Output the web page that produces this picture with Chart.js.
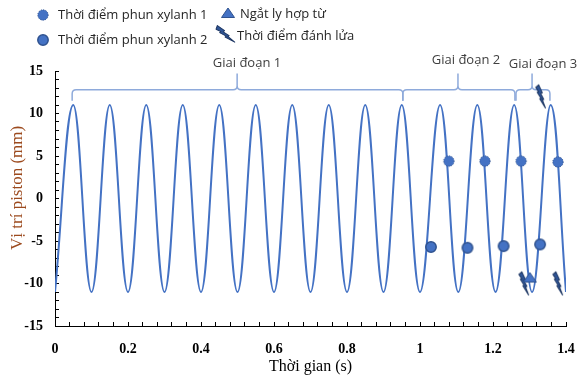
<!DOCTYPE html>
<html><head><meta charset="utf-8">
<script src="https://cdn.jsdelivr.net/npm/chart.js@4.4.1/dist/chart.umd.min.js"></script>
<style>html,body{margin:0;padding:0;background:#fff}#wrap{width:582px;height:378px;position:relative}</style>
</head><body><div id="wrap"><canvas id="c" width="582" height="378"></canvas></div>
<script>
// ---- data ----
const pistonTime = [0,0.05,0.1,0.15,0.2,0.25,0.3,0.35,0.4,0.45,0.5,0.55,0.6,0.65,0.7,0.75,0.8,0.85,0.9,0.95,1.0,1.055,1.105,1.157,1.207,1.258,1.307,1.358,1.4];
const pistonPos  = [-11,11,-11,11,-11,11,-11,11,-11,11,-11,11,-11,11,-11,11,-11,11,-11,11,-11,11,-11,11,-11,11,-11,11,-11];
const inj1Time = [1.079,1.178,1.277,1.378];
const inj1Pos  = [4.4,4.4,4.4,4.3];
const inj2Time = [1.030,1.130,1.229,1.329];
const inj2Pos  = [-5.7,-5.8,-5.6,-5.4];
const clutchTime = [1.301];
const clutchPos  = [-9.3];
const sparkTime = [1.334,1.288,1.381];
const sparkPos  = [12.0,-10.0,-10.0];
const stageLabels = ['Giai đoạn 1','Giai đoạn 2','Giai đoạn 3'];
const stageStart  = [0.047,0.953,1.263];
const stageEnd    = [0.953,1.260,1.356];
const stageMid    = [0.499,1.104,1.307];
const stageLabelX = [0.526,1.126,1.337];
const stageLabelY = [15.9,16.3,15.8];
const xTickLabels = ['0','0.2','0.4','0.6','0.8','1','1.2','1.4'];
const yTickLabels = ['-15','-10','-5','0','5','10','15'];
const seriesNames = ['Thời điểm phun xylanh 1','Thời điểm phun xylanh 2','Ngắt ly hợp từ','Thời điểm đánh lửa'];

const BLUE='#4472C4', DARK='#2F528F';
function makeDot(dotted){
  const c=document.createElement('canvas'); c.width=14; c.height=14;
  const g=c.getContext('2d');
  g.beginPath(); g.arc(7,7,5.2,0,Math.PI*2);
  g.fillStyle=BLUE; g.fill();
  g.lineWidth=dotted?1:1.5; g.strokeStyle=DARK;
  if(dotted) g.setLineDash([1.2,1.2]);
  g.stroke(); return c;
}
function makeTri(){
  const c=document.createElement('canvas'); c.width=16; c.height=14;
  const g=c.getContext('2d');
  g.beginPath(); g.moveTo(8,2); g.lineTo(14.5,11.5); g.lineTo(1.5,11.5); g.closePath();
  g.fillStyle=BLUE; g.fill(); g.lineWidth=1; g.strokeStyle=DARK; g.stroke(); return c;
}
function makeBolt(angle){
  const c=document.createElement('canvas'); c.width=30; c.height=30;
  const g=c.getContext('2d');
  g.translate(15,15); g.rotate(angle*Math.PI/180); g.translate(-11,-0.5);
  const p=[[0,-4.5],[8.5,-2.2],[7.6,-0.6],[14.5,1.0],[13.6,2.2],[22,5.2],[11.2,3.6],[12,2.4],[4.6,1.4],[5.4,0.0],[0,-0.6]];
  g.beginPath(); g.moveTo(p[0][0],p[0][1]); for(let i=1;i<p.length;i++) g.lineTo(p[i][0],p[i][1]); g.closePath();
  g.fillStyle='#2F5597'; g.fill(); g.lineWidth=1; g.strokeStyle='#1F3864'; g.lineJoin='round'; g.stroke(); return c;
}
const dot1=makeDot(true), dot2=makeDot(false), tri=makeTri(), boltChart=makeBolt(50), boltLegend=makeBolt(20);

const pts=(xs,ys)=>xs.map((x,i)=>({x:x,y:ys[i]}));
const isMajor=(v,step)=>Math.abs(v/step-Math.round(v/step))<1e-6;

const bracketPlugin={id:'brackets',beforeDatasetsDraw(chart){
  const g=chart.ctx, xs=chart.scales.x, ys=chart.scales.y;
  const yH=ys.getPixelForValue(12.8), yLow=ys.getPixelForValue(11.5), yTop=ys.getPixelForValue(14.7), r=4;
  g.save(); g.strokeStyle='#8EAADB'; g.lineWidth=1.5; g.lineJoin='round';
  for(let i=0;i<stageStart.length;i++){
    const x0=xs.getPixelForValue(stageStart[i]), x1=xs.getPixelForValue(stageEnd[i]), xc=xs.getPixelForValue(stageMid[i]);
    g.beginPath();
    g.moveTo(x0,yLow); g.lineTo(x0,yH+r); g.quadraticCurveTo(x0,yH,x0+r,yH);
    g.lineTo(xc-r,yH); g.quadraticCurveTo(xc,yH,xc,yH-r); g.lineTo(xc,yTop);
    g.moveTo(xc,yH-r); g.quadraticCurveTo(xc,yH,xc+r,yH);
    g.lineTo(x1-r,yH); g.quadraticCurveTo(x1,yH,x1,yH+r); g.lineTo(x1,yLow);
    g.stroke();
  }
  g.fillStyle='#404040'; g.font='13px "Open Sans"'; g.textAlign='center'; g.textBaseline='middle';
  for(let i=0;i<stageLabels.length;i++){
    g.fillText(stageLabels[i], xs.getPixelForValue(stageLabelX[i]), ys.getPixelForValue(stageLabelY[i]));
  }
  g.restore();
}};

const legendPlugin={id:'customLegend',afterDraw(chart){
  const g=chart.ctx;
  const items=[[dot1,43,15,58,15],[dot2,43,40,58,40],[tri,228,13,240,14],[boltLegend,226,34,237,36]];
  g.save(); g.font='13px "Open Sans"'; g.fillStyle='#262626'; g.textBaseline='middle'; g.textAlign='left';
  items.forEach((it,i)=>{
    g.drawImage(it[0], it[1]-it[0].width/2, it[2]-it[0].height/2);
    g.fillText(seriesNames[i], it[3], it[4]);
  });
  g.restore();
}};

const tickFont={family:'"Liberation Serif", "Times New Roman", serif',weight:'bold',size:14};
new Chart(document.getElementById('c'),{
  type:'scatter',
  data:{datasets:[
    {label:'Vị trí piston',data:pts(pistonTime,pistonPos),showLine:true,borderColor:BLUE,borderWidth:2,pointRadius:0,tension:0.4,order:10},
    {label:seriesNames[0],data:pts(inj1Time,inj1Pos),pointStyle:dot1,pointRadius:6},
    {label:seriesNames[1],data:pts(inj2Time,inj2Pos),pointStyle:dot2,pointRadius:6},
    {label:seriesNames[2],data:pts(clutchTime,clutchPos),pointStyle:tri,pointRadius:7},
    {label:seriesNames[3],data:pts(sparkTime,sparkPos),pointStyle:boltChart,pointRadius:10}
  ]},
  options:{
    responsive:false,animation:false,devicePixelRatio:1,
    layout:{padding:{left:0,right:16,top:71,bottom:0}},
    plugins:{legend:{display:false},tooltip:{enabled:false}},
    scales:{
      x:{type:'linear',min:0,max:1.4,
        ticks:{stepSize:0.04,autoSkip:false,maxRotation:0,color:'#000',font:tickFont,padding:19,
          callback:(v)=>{ if(!isMajor(v,0.2)) return ''; return xTickLabels[Math.round(v/0.2)]; }},
        grid:{drawOnChartArea:false,tickLength:-4,color:'#000'},
        border:{color:'#000',width:1},
        title:{display:true,text:'Thời gian (s)',color:'#000',font:{family:'"Liberation Serif", serif',size:16},padding:{top:0,bottom:2}},
        afterFit:(s)=>{s.height=52; s.paddingLeft=0; s.paddingRight=0;}
      },
      y:{min:-15,max:15,
        ticks:{stepSize:1,autoSkip:false,color:'#000',font:tickFont,padding:16,
          callback:(v)=>{ if(!isMajor(v,5)) return ''; return yTickLabels[Math.round((v+15)/5)]; }},
        grid:{drawOnChartArea:false,tickLength:-4,color:'#000'},
        border:{color:'#000',width:1},
        title:{display:true,text:'     Vị trí piston (mm)',color:'#9C4A1E',font:{family:'"Liberation Serif", serif',size:17},padding:{top:7,bottom:0}},
        afterFit:(s)=>{s.width=55; s.paddingTop=0; s.paddingBottom=0;}
      }
    }
  },
  plugins:[bracketPlugin,legendPlugin]
});
</script></body></html>
